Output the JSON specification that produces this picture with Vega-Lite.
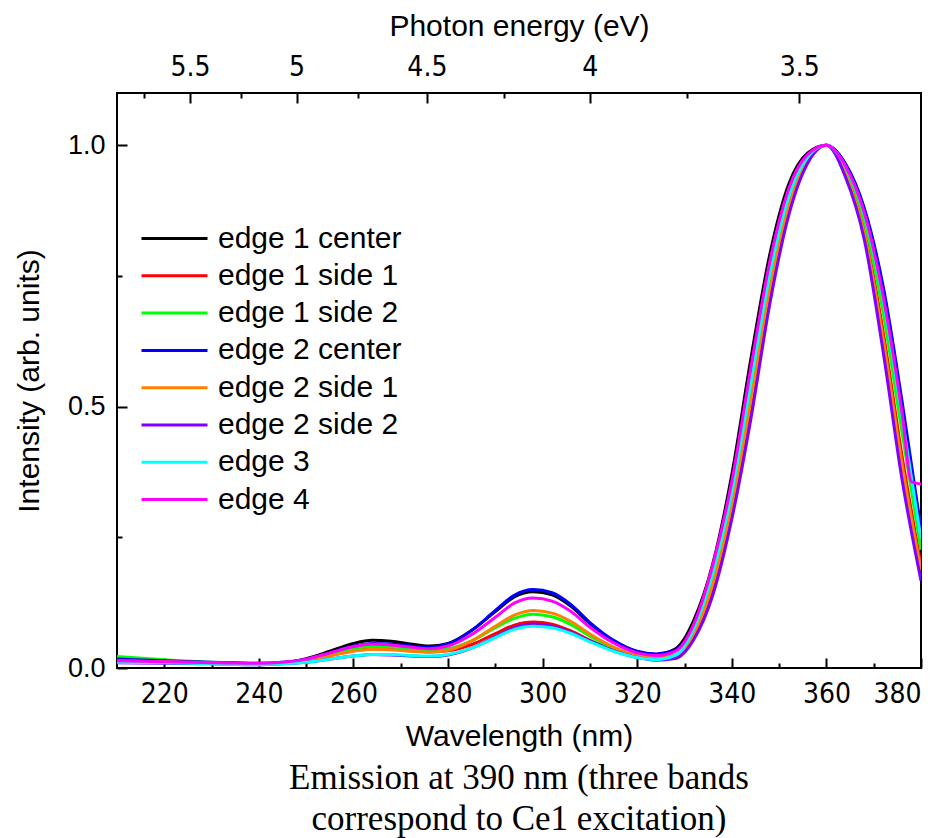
{
  "$schema": "https://vega.github.io/schema/vega-lite/v6.json",
  "width": 804,
  "height": 575,
  "autosize": {"type": "none"},
  "padding": {"left": 117, "top": 93, "right": 22, "bottom": 170},
  "background": "white",
  "config": {
    "view": {"stroke": "black", "strokeWidth": 2},
    "axis": {
      "domain": false,
      "grid": false,
      "tickColor": "black",
      "tickWidth": 2,
      "labelColor": "black",
      "titleColor": "black",
      "labelFont": "Liberation Sans, Arial, sans-serif",
      "titleFont": "Liberation Sans, Arial, sans-serif",
      "titleFontWeight": "normal"
    }
  },
  "title": {
    "text": ["Emission at 390 nm (three bands", "correspond to Ce1 excitation)"],
    "orient": "bottom",
    "anchor": "middle",
    "font": "Liberation Serif, Times New Roman, serif",
    "fontSize": 35,
    "fontWeight": "normal",
    "color": "black",
    "lineHeight": 41,
    "offset": 10
  },
  "datasets": {
    "spectra": [
      {"s":"edge 1 center","w":210,"i":0.016},{"s":"edge 1 center","w":220,"i":0.013},{"s":"edge 1 center","w":230,"i":0.010},{"s":"edge 1 center","w":240,"i":0.008},{"s":"edge 1 center","w":245,"i":0.010},{"s":"edge 1 center","w":250,"i":0.018},{"s":"edge 1 center","w":255,"i":0.032},{"s":"edge 1 center","w":260,"i":0.047},{"s":"edge 1 center","w":264,"i":0.053},{"s":"edge 1 center","w":268,"i":0.051},{"s":"edge 1 center","w":272,"i":0.046},{"s":"edge 1 center","w":276,"i":0.042},{"s":"edge 1 center","w":280,"i":0.047},{"s":"edge 1 center","w":285,"i":0.072},{"s":"edge 1 center","w":290,"i":0.108},{"s":"edge 1 center","w":294,"i":0.136},{"s":"edge 1 center","w":298,"i":0.146},{"s":"edge 1 center","w":302,"i":0.140},{"s":"edge 1 center","w":306,"i":0.118},{"s":"edge 1 center","w":310,"i":0.085},{"s":"edge 1 center","w":315,"i":0.052},{"s":"edge 1 center","w":320,"i":0.031},{"s":"edge 1 center","w":324,"i":0.026},{"s":"edge 1 center","w":328,"i":0.036},{"s":"edge 1 center","w":332,"i":0.092},{"s":"edge 1 center","w":336,"i":0.200},{"s":"edge 1 center","w":340,"i":0.370},{"s":"edge 1 center","w":344,"i":0.590},{"s":"edge 1 center","w":348,"i":0.790},{"s":"edge 1 center","w":352,"i":0.925},{"s":"edge 1 center","w":356,"i":0.985},{"s":"edge 1 center","w":360,"i":1.000},{"s":"edge 1 center","w":364,"i":0.964},{"s":"edge 1 center","w":368,"i":0.877},{"s":"edge 1 center","w":372,"i":0.724},{"s":"edge 1 center","w":376,"i":0.500},{"s":"edge 1 center","w":380,"i":0.260},

      {"s":"edge 1 side 1","w":210,"i":0.015},{"s":"edge 1 side 1","w":220,"i":0.013},{"s":"edge 1 side 1","w":230,"i":0.010},{"s":"edge 1 side 1","w":240,"i":0.008},{"s":"edge 1 side 1","w":245,"i":0.010},{"s":"edge 1 side 1","w":250,"i":0.015},{"s":"edge 1 side 1","w":255,"i":0.024},{"s":"edge 1 side 1","w":260,"i":0.033},{"s":"edge 1 side 1","w":264,"i":0.037},{"s":"edge 1 side 1","w":268,"i":0.036},{"s":"edge 1 side 1","w":272,"i":0.033},{"s":"edge 1 side 1","w":276,"i":0.031},{"s":"edge 1 side 1","w":280,"i":0.033},{"s":"edge 1 side 1","w":285,"i":0.045},{"s":"edge 1 side 1","w":290,"i":0.066},{"s":"edge 1 side 1","w":294,"i":0.082},{"s":"edge 1 side 1","w":298,"i":0.088},{"s":"edge 1 side 1","w":302,"i":0.084},{"s":"edge 1 side 1","w":306,"i":0.071},{"s":"edge 1 side 1","w":310,"i":0.053},{"s":"edge 1 side 1","w":315,"i":0.034},{"s":"edge 1 side 1","w":320,"i":0.022},{"s":"edge 1 side 1","w":324,"i":0.018},{"s":"edge 1 side 1","w":328,"i":0.021},{"s":"edge 1 side 1","w":332,"i":0.059},{"s":"edge 1 side 1","w":336,"i":0.147},{"s":"edge 1 side 1","w":340,"i":0.294},{"s":"edge 1 side 1","w":344,"i":0.487},{"s":"edge 1 side 1","w":348,"i":0.705},{"s":"edge 1 side 1","w":352,"i":0.871},{"s":"edge 1 side 1","w":356,"i":0.967},{"s":"edge 1 side 1","w":360,"i":1.000},{"s":"edge 1 side 1","w":364,"i":0.948},{"s":"edge 1 side 1","w":368,"i":0.838},{"s":"edge 1 side 1","w":372,"i":0.643},{"s":"edge 1 side 1","w":376,"i":0.405},{"s":"edge 1 side 1","w":380,"i":0.197},

      {"s":"edge 1 side 2","w":210,"i":0.022},{"s":"edge 1 side 2","w":220,"i":0.016},{"s":"edge 1 side 2","w":230,"i":0.011},{"s":"edge 1 side 2","w":240,"i":0.008},{"s":"edge 1 side 2","w":245,"i":0.010},{"s":"edge 1 side 2","w":250,"i":0.016},{"s":"edge 1 side 2","w":255,"i":0.026},{"s":"edge 1 side 2","w":260,"i":0.037},{"s":"edge 1 side 2","w":264,"i":0.041},{"s":"edge 1 side 2","w":268,"i":0.040},{"s":"edge 1 side 2","w":272,"i":0.036},{"s":"edge 1 side 2","w":276,"i":0.034},{"s":"edge 1 side 2","w":280,"i":0.037},{"s":"edge 1 side 2","w":285,"i":0.052},{"s":"edge 1 side 2","w":290,"i":0.077},{"s":"edge 1 side 2","w":294,"i":0.095},{"s":"edge 1 side 2","w":298,"i":0.103},{"s":"edge 1 side 2","w":302,"i":0.098},{"s":"edge 1 side 2","w":306,"i":0.083},{"s":"edge 1 side 2","w":310,"i":0.061},{"s":"edge 1 side 2","w":315,"i":0.038},{"s":"edge 1 side 2","w":320,"i":0.024},{"s":"edge 1 side 2","w":324,"i":0.020},{"s":"edge 1 side 2","w":328,"i":0.025},{"s":"edge 1 side 2","w":332,"i":0.069},{"s":"edge 1 side 2","w":336,"i":0.168},{"s":"edge 1 side 2","w":340,"i":0.319},{"s":"edge 1 side 2","w":344,"i":0.521},{"s":"edge 1 side 2","w":348,"i":0.733},{"s":"edge 1 side 2","w":352,"i":0.889},{"s":"edge 1 side 2","w":356,"i":0.973},{"s":"edge 1 side 2","w":360,"i":1.000},{"s":"edge 1 side 2","w":364,"i":0.955},{"s":"edge 1 side 2","w":368,"i":0.856},{"s":"edge 1 side 2","w":372,"i":0.680},{"s":"edge 1 side 2","w":376,"i":0.450},{"s":"edge 1 side 2","w":380,"i":0.226},

      {"s":"edge 2 center","w":210,"i":0.017},{"s":"edge 2 center","w":220,"i":0.014},{"s":"edge 2 center","w":230,"i":0.011},{"s":"edge 2 center","w":240,"i":0.009},{"s":"edge 2 center","w":245,"i":0.011},{"s":"edge 2 center","w":250,"i":0.017},{"s":"edge 2 center","w":255,"i":0.029},{"s":"edge 2 center","w":260,"i":0.042},{"s":"edge 2 center","w":264,"i":0.047},{"s":"edge 2 center","w":268,"i":0.046},{"s":"edge 2 center","w":272,"i":0.042},{"s":"edge 2 center","w":276,"i":0.040},{"s":"edge 2 center","w":280,"i":0.046},{"s":"edge 2 center","w":285,"i":0.072},{"s":"edge 2 center","w":290,"i":0.110},{"s":"edge 2 center","w":294,"i":0.139},{"s":"edge 2 center","w":298,"i":0.150},{"s":"edge 2 center","w":302,"i":0.144},{"s":"edge 2 center","w":306,"i":0.121},{"s":"edge 2 center","w":310,"i":0.087},{"s":"edge 2 center","w":315,"i":0.053},{"s":"edge 2 center","w":320,"i":0.032},{"s":"edge 2 center","w":324,"i":0.027},{"s":"edge 2 center","w":328,"i":0.034},{"s":"edge 2 center","w":332,"i":0.080},{"s":"edge 2 center","w":336,"i":0.189},{"s":"edge 2 center","w":340,"i":0.345},{"s":"edge 2 center","w":344,"i":0.556},{"s":"edge 2 center","w":348,"i":0.762},{"s":"edge 2 center","w":352,"i":0.907},{"s":"edge 2 center","w":356,"i":0.979},{"s":"edge 2 center","w":360,"i":1.000},{"s":"edge 2 center","w":364,"i":0.965},{"s":"edge 2 center","w":368,"i":0.880},{"s":"edge 2 center","w":372,"i":0.730},{"s":"edge 2 center","w":376,"i":0.510},{"s":"edge 2 center","w":380,"i":0.266},

      {"s":"edge 2 side 1","w":210,"i":0.014},{"s":"edge 2 side 1","w":220,"i":0.012},{"s":"edge 2 side 1","w":230,"i":0.010},{"s":"edge 2 side 1","w":240,"i":0.008},{"s":"edge 2 side 1","w":245,"i":0.010},{"s":"edge 2 side 1","w":250,"i":0.014},{"s":"edge 2 side 1","w":255,"i":0.023},{"s":"edge 2 side 1","w":260,"i":0.032},{"s":"edge 2 side 1","w":264,"i":0.036},{"s":"edge 2 side 1","w":268,"i":0.035},{"s":"edge 2 side 1","w":272,"i":0.032},{"s":"edge 2 side 1","w":276,"i":0.030},{"s":"edge 2 side 1","w":280,"i":0.034},{"s":"edge 2 side 1","w":285,"i":0.052},{"s":"edge 2 side 1","w":290,"i":0.080},{"s":"edge 2 side 1","w":294,"i":0.101},{"s":"edge 2 side 1","w":298,"i":0.110},{"s":"edge 2 side 1","w":302,"i":0.105},{"s":"edge 2 side 1","w":306,"i":0.089},{"s":"edge 2 side 1","w":310,"i":0.065},{"s":"edge 2 side 1","w":315,"i":0.040},{"s":"edge 2 side 1","w":320,"i":0.024},{"s":"edge 2 side 1","w":324,"i":0.020},{"s":"edge 2 side 1","w":328,"i":0.024},{"s":"edge 2 side 1","w":332,"i":0.066},{"s":"edge 2 side 1","w":336,"i":0.161},{"s":"edge 2 side 1","w":340,"i":0.311},{"s":"edge 2 side 1","w":344,"i":0.510},{"s":"edge 2 side 1","w":348,"i":0.724},{"s":"edge 2 side 1","w":352,"i":0.883},{"s":"edge 2 side 1","w":356,"i":0.971},{"s":"edge 2 side 1","w":360,"i":1.000},{"s":"edge 2 side 1","w":364,"i":0.945},{"s":"edge 2 side 1","w":368,"i":0.832},{"s":"edge 2 side 1","w":372,"i":0.630},{"s":"edge 2 side 1","w":376,"i":0.390},{"s":"edge 2 side 1","w":380,"i":0.187},

      {"s":"edge 2 side 2","w":210,"i":0.010},{"s":"edge 2 side 2","w":220,"i":0.009},{"s":"edge 2 side 2","w":230,"i":0.008},{"s":"edge 2 side 2","w":240,"i":0.006},{"s":"edge 2 side 2","w":245,"i":0.008},{"s":"edge 2 side 2","w":250,"i":0.011},{"s":"edge 2 side 2","w":255,"i":0.017},{"s":"edge 2 side 2","w":260,"i":0.023},{"s":"edge 2 side 2","w":264,"i":0.026},{"s":"edge 2 side 2","w":268,"i":0.025},{"s":"edge 2 side 2","w":272,"i":0.023},{"s":"edge 2 side 2","w":276,"i":0.022},{"s":"edge 2 side 2","w":280,"i":0.025},{"s":"edge 2 side 2","w":285,"i":0.038},{"s":"edge 2 side 2","w":290,"i":0.060},{"s":"edge 2 side 2","w":294,"i":0.077},{"s":"edge 2 side 2","w":298,"i":0.084},{"s":"edge 2 side 2","w":302,"i":0.080},{"s":"edge 2 side 2","w":306,"i":0.068},{"s":"edge 2 side 2","w":310,"i":0.052},{"s":"edge 2 side 2","w":315,"i":0.033},{"s":"edge 2 side 2","w":320,"i":0.020},{"s":"edge 2 side 2","w":324,"i":0.015},{"s":"edge 2 side 2","w":328,"i":0.018},{"s":"edge 2 side 2","w":332,"i":0.055},{"s":"edge 2 side 2","w":336,"i":0.140},{"s":"edge 2 side 2","w":340,"i":0.285},{"s":"edge 2 side 2","w":344,"i":0.475},{"s":"edge 2 side 2","w":348,"i":0.695},{"s":"edge 2 side 2","w":352,"i":0.865},{"s":"edge 2 side 2","w":356,"i":0.965},{"s":"edge 2 side 2","w":360,"i":1.000},{"s":"edge 2 side 2","w":364,"i":0.940},{"s":"edge 2 side 2","w":368,"i":0.820},{"s":"edge 2 side 2","w":372,"i":0.605},{"s":"edge 2 side 2","w":376,"i":0.360},{"s":"edge 2 side 2","w":380,"i":0.167},

      {"s":"edge 3","w":210,"i":0.011},{"s":"edge 3","w":220,"i":0.010},{"s":"edge 3","w":230,"i":0.008},{"s":"edge 3","w":240,"i":0.006},{"s":"edge 3","w":245,"i":0.008},{"s":"edge 3","w":250,"i":0.011},{"s":"edge 3","w":255,"i":0.017},{"s":"edge 3","w":260,"i":0.023},{"s":"edge 3","w":264,"i":0.026},{"s":"edge 3","w":268,"i":0.026},{"s":"edge 3","w":272,"i":0.024},{"s":"edge 3","w":276,"i":0.023},{"s":"edge 3","w":280,"i":0.026},{"s":"edge 3","w":285,"i":0.038},{"s":"edge 3","w":290,"i":0.058},{"s":"edge 3","w":294,"i":0.074},{"s":"edge 3","w":298,"i":0.080},{"s":"edge 3","w":302,"i":0.077},{"s":"edge 3","w":306,"i":0.066},{"s":"edge 3","w":310,"i":0.050},{"s":"edge 3","w":315,"i":0.032},{"s":"edge 3","w":320,"i":0.020},{"s":"edge 3","w":324,"i":0.016},{"s":"edge 3","w":328,"i":0.024},{"s":"edge 3","w":332,"i":0.076},{"s":"edge 3","w":336,"i":0.182},{"s":"edge 3","w":340,"i":0.336},{"s":"edge 3","w":344,"i":0.544},{"s":"edge 3","w":348,"i":0.752},{"s":"edge 3","w":352,"i":0.901},{"s":"edge 3","w":356,"i":0.977},{"s":"edge 3","w":360,"i":1.000},{"s":"edge 3","w":364,"i":0.960},{"s":"edge 3","w":368,"i":0.868},{"s":"edge 3","w":372,"i":0.705},{"s":"edge 3","w":376,"i":0.480},{"s":"edge 3","w":380,"i":0.246},

      {"s":"edge 4","w":210,"i":0.014},{"s":"edge 4","w":220,"i":0.012},{"s":"edge 4","w":230,"i":0.010},{"s":"edge 4","w":240,"i":0.009},{"s":"edge 4","w":245,"i":0.011},{"s":"edge 4","w":250,"i":0.017},{"s":"edge 4","w":255,"i":0.029},{"s":"edge 4","w":260,"i":0.041},{"s":"edge 4","w":264,"i":0.046},{"s":"edge 4","w":268,"i":0.044},{"s":"edge 4","w":272,"i":0.040},{"s":"edge 4","w":276,"i":0.037},{"s":"edge 4","w":280,"i":0.042},{"s":"edge 4","w":285,"i":0.064},{"s":"edge 4","w":290,"i":0.097},{"s":"edge 4","w":294,"i":0.124},{"s":"edge 4","w":298,"i":0.134},{"s":"edge 4","w":302,"i":0.128},{"s":"edge 4","w":306,"i":0.108},{"s":"edge 4","w":310,"i":0.078},{"s":"edge 4","w":315,"i":0.048},{"s":"edge 4","w":320,"i":0.029},{"s":"edge 4","w":324,"i":0.024},{"s":"edge 4","w":328,"i":0.032},{"s":"edge 4","w":332,"i":0.085},{"s":"edge 4","w":336,"i":0.198},{"s":"edge 4","w":340,"i":0.357},{"s":"edge 4","w":344,"i":0.573},{"s":"edge 4","w":348,"i":0.776},{"s":"edge 4","w":352,"i":0.916},{"s":"edge 4","w":356,"i":0.982},{"s":"edge 4","w":360,"i":1.000},{"s":"edge 4","w":364,"i":0.961},{"s":"edge 4","w":368,"i":0.871},{"s":"edge 4","w":372,"i":0.711},{"s":"edge 4","w":376,"i":0.487},{"s":"edge 4","w":378,"i":0.356},{"s":"edge 4","w":380,"i":0.352}
    ]
  },
  "layer": [
    {
      "data": {"name": "spectra"},
      "mark": {"type": "line", "strokeWidth": 3, "clip": true, "interpolate": "monotone"},
      "encoding": {
        "x": {
          "field": "w",
          "type": "quantitative",
          "scale": {"domain": [210, 380], "nice": false, "zero": false},
          "axis": {
            "orient": "bottom",
            "values": [220, 240, 260, 280, 300, 320, 340, 360, 380],
            "tickSize": -10,
            "labelPadding": 22,
            "labelFont": "Liberation Sans Narrow, DejaVu Sans Condensed, Liberation Sans",
            "labelFontSize": 28,
            "title": "Wavelength (nm)",
            "titleFontSize": 30,
            "titlePadding": 13
          }
        },
        "y": {
          "field": "i",
          "type": "quantitative",
          "scale": {"domain": [0, 1.1], "nice": false, "zero": false},
          "axis": {
            "orient": "left",
            "values": [0, 0.5, 1],
            "format": ".1f",
            "tickSize": -10,
            "labelPadding": 22,
            "labelFontSize": 27,
            "title": "Intensity (arb. units)",
            "titleFontSize": 30,
            "titlePadding": 23
          }
        },
        "color": {
          "field": "s",
          "type": "nominal",
          "scale": {
            "domain": ["edge 1 center", "edge 1 side 1", "edge 1 side 2", "edge 2 center", "edge 2 side 1", "edge 2 side 2", "edge 3", "edge 4"],
            "range": ["#000000", "#ff0000", "#00ff00", "#0000ff", "#ff8000", "#8000ff", "#00ffff", "#ff00ff"]
          },
          "legend": {
            "title": null,
            "orient": "none",
            "legendX": 23,
            "legendY": 127,
            "symbolType": "stroke",
            "symbolSize": 4356,
            "symbolStrokeWidth": 3,
            "labelFont": "Liberation Sans, Arial, sans-serif",
            "labelFontSize": 30,
            "labelColor": "black",
            "labelOffset": 9,
            "labelLimit": 0,
            "clipHeight": 37,
            "rowPadding": 0.3,
            "padding": 0
          }
        }
      }
    },
    {
      "data": {"name": "spectra"},
      "mark": {"type": "point", "opacity": 0},
      "encoding": {
        "x": {
          "field": "w",
          "type": "quantitative",
          "axis": {"orient": "bottom", "values": [230, 250, 270, 290, 310, 330, 350, 370], "tickSize": -5, "labels": false, "title": null}
        },
        "y": {
          "field": "i",
          "type": "quantitative",
          "axis": {"orient": "left", "values": [0.25, 0.75], "tickSize": -5, "labels": false, "title": null}
        }
      }
    },
    {
      "data": {"name": "spectra"},
      "mark": {"type": "point", "opacity": 0},
      "encoding": {
        "x": {
          "field": "w",
          "type": "quantitative",
          "axis": {
            "orient": "top",
            "values": [225.425, 247.968, 275.52, 309.96, 354.24],
            "labelExpr": "format(1239.84 / datum.value, '.2~r')",
            "tickSize": -10,
            "labelPadding": 22,
            "labelFont": "Liberation Sans Narrow, DejaVu Sans Condensed, Liberation Sans",
            "labelFontSize": 28,
            "title": "Photon energy (eV)",
            "titleFontSize": 30,
            "titlePadding": 12
          }
        }
      }
    },
    {
      "data": {"name": "spectra"},
      "mark": {"type": "point", "opacity": 0},
      "encoding": {
        "x": {
          "field": "w",
          "type": "quantitative",
          "axis": {"orient": "top", "values": [215.624, 236.16, 261.02, 291.73, 330.62], "tickSize": -5, "labels": false, "title": null}
        }
      }
    }
  ],
  "resolve": {"axis": {"x": "independent", "y": "independent"}}
}
